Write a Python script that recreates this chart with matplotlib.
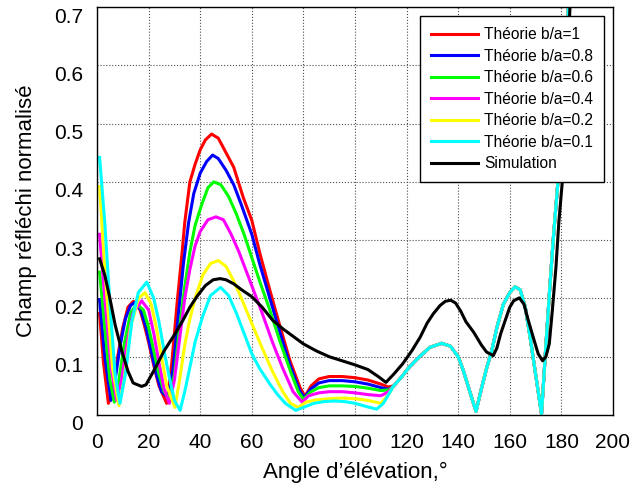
import numpy as np
import matplotlib
matplotlib.use("Agg")
import matplotlib.pyplot as plt
from matplotlib.transforms import ScaledTranslation

plt.rcParams['font.family'] = ['Liberation Sans', 'DejaVu Sans']

# values
# shared tail of all theory curves (they coincide after ~115 deg)
tail_x = [115, 118, 121, 125, 129, 133.6, 137, 140, 142, 144.5, 146.9, 149, 151, 153, 155,
          157.5, 160, 162, 164, 166, 168, 170, 172.3, 174, 175.6, 177, 178.8, 181, 183]
tail_y = [0.05, 0.065, 0.082, 0.1, 0.116, 0.123, 0.118, 0.1, 0.076, 0.04, 0.006, 0.045, 0.08, 0.11, 0.15,
          0.19, 0.21, 0.22, 0.215, 0.185, 0.13, 0.07, 0.002, 0.12, 0.225, 0.31, 0.408, 0.55, 0.72]

ang_ba1 = [1, 2.5, 4.4, 6, 8, 10, 12, 14.1, 16, 18, 20, 22, 24, 27, 29, 31, 33, 34, 36, 38, 40, 42, 44.4,
           47, 50, 53, 56.7, 60, 63.2, 67, 71, 74.8, 78.7, 80.6, 83, 86, 90, 95, 100, 105, 110, 113]
val_ba1 = [0.174, 0.09, 0.02, 0.04, 0.1, 0.15, 0.185, 0.195, 0.19, 0.16, 0.125, 0.085, 0.05, 0.02, 0.09, 0.19,
           0.28, 0.33, 0.40, 0.43, 0.455, 0.472, 0.482, 0.475, 0.45, 0.425, 0.373, 0.334, 0.276, 0.214, 0.151,
           0.093, 0.047, 0.032, 0.05, 0.062, 0.066, 0.066, 0.064, 0.06, 0.053, 0.048]

ang_ba08 = [1, 3, 5.4, 7, 9, 11, 13, 14.7, 17, 19, 21, 23, 25, 27.5, 29.5, 31.5, 33.5, 35.5, 37.5, 40, 42.5,
            44.8, 47, 50, 53, 56, 60, 63, 67, 71, 75, 78.5, 80.3, 83, 86, 90, 95, 100, 105, 110, 113]
val_ba08 = [0.198, 0.1, 0.025, 0.06, 0.12, 0.165, 0.188, 0.193, 0.18, 0.15, 0.11, 0.07, 0.04, 0.03, 0.08,
            0.17, 0.26, 0.33, 0.38, 0.415, 0.435, 0.446, 0.44, 0.42, 0.395, 0.36, 0.31, 0.26, 0.2, 0.14, 0.083,
            0.042, 0.03, 0.045, 0.055, 0.059, 0.059, 0.057, 0.053, 0.047, 0.044]

ang_ba06 = [1, 3, 5, 6.7, 8.5, 10.5, 13, 15.4, 18, 20, 22, 24, 26, 28, 30, 32, 34, 36, 38, 40.5, 43, 45.3,
            48, 51, 54, 57, 60, 63, 67, 71, 75, 78, 80, 83, 86, 90, 95, 100, 105, 110, 113]
val_ba06 = [0.245, 0.15, 0.06, 0.022, 0.06, 0.12, 0.175, 0.19, 0.18, 0.15, 0.11, 0.07, 0.04, 0.028, 0.07,
            0.15, 0.22, 0.28, 0.325, 0.36, 0.39, 0.40, 0.395, 0.375, 0.345, 0.31, 0.27, 0.23, 0.18, 0.125,
            0.075, 0.04, 0.027, 0.04, 0.047, 0.05, 0.05, 0.049, 0.046, 0.042, 0.043]

ang_ba04 = [1, 3, 5.5, 7.6, 9.5, 11.5, 14, 17.3, 20, 22, 24, 26, 28, 30, 32, 34, 36, 38, 40, 43, 46.1, 49,
            52, 55, 58, 61, 64, 68, 72, 76, 79.5, 82, 86, 90, 95, 100, 105, 110, 113]
val_ba04 = [0.31, 0.2, 0.08, 0.025, 0.06, 0.12, 0.175, 0.196, 0.18, 0.14, 0.09, 0.045, 0.02, 0.06, 0.13,
            0.2, 0.25, 0.29, 0.315, 0.335, 0.34, 0.335, 0.31, 0.28, 0.245, 0.21, 0.175, 0.125, 0.08, 0.04,
            0.022, 0.033, 0.038, 0.04, 0.04, 0.038, 0.035, 0.033, 0.04]

ang_ba02 = [1, 3, 6, 8.5, 10.5, 13, 16, 18.6, 21, 23, 25, 27, 30.2, 32, 34, 36, 38, 41, 44, 47, 50, 53, 56,
            60, 64, 68, 72, 75, 78, 81, 85, 90, 95, 100, 105, 110, 113]
val_ba02 = [0.392, 0.25, 0.08, 0.016, 0.06, 0.15, 0.2, 0.21, 0.19, 0.15, 0.1, 0.05, 0.013, 0.06, 0.12,
            0.165, 0.2, 0.24, 0.26, 0.265, 0.255, 0.23, 0.2, 0.157, 0.115, 0.075, 0.04, 0.02, 0.013, 0.022,
            0.026, 0.028, 0.029, 0.028, 0.025, 0.02, 0.035]

ang_ba01 = [1, 3, 5, 7, 8.9, 11, 13.5, 16, 19.3, 22, 24, 26, 28, 30, 32.2, 34, 36, 38, 41, 44, 47.9, 51,
            54, 57, 60, 63, 67, 70, 73, 77, 80, 84, 88, 92, 96, 100, 104, 108.4, 111, 113]
val_ba01 = [0.442, 0.33, 0.19, 0.07, 0.02, 0.07, 0.16, 0.21, 0.228, 0.2, 0.16, 0.11, 0.065, 0.025, 0.008,
            0.04, 0.082, 0.125, 0.17, 0.205, 0.219, 0.205, 0.175, 0.14, 0.105, 0.08, 0.053, 0.035, 0.02,
            0.008, 0.013, 0.02, 0.023, 0.024, 0.023, 0.02, 0.015, 0.01, 0.02, 0.035]

ang_sim = [1, 3, 5, 7, 9.6, 12, 14, 17.3, 19, 22.5, 26, 30.2, 33, 36, 39, 42, 45, 47.7, 50, 53, 56, 60, 64,
           68, 72, 76, 80, 85, 90, 95, 100, 105, 109, 112, 115, 118.5, 122, 125.2, 128, 130.4, 133, 135,
           137.1, 139, 141, 143, 146, 149, 151, 153.6, 155, 156.5, 158.2, 160, 161.5, 163.7, 165.5, 167,
           169.1, 171, 172.7, 174, 175.3, 176.5, 177.9, 179, 180.5, 182, 183.5]
val_sim = [0.268, 0.24, 0.2, 0.155, 0.11, 0.075, 0.055, 0.049, 0.052, 0.08, 0.11, 0.139, 0.16, 0.185, 0.205,
           0.222, 0.232, 0.234, 0.232, 0.225, 0.215, 0.203, 0.185, 0.163, 0.148, 0.135, 0.122, 0.11, 0.1,
           0.093, 0.086, 0.078, 0.066, 0.056, 0.07, 0.088, 0.11, 0.133, 0.158, 0.174, 0.188, 0.195, 0.197,
           0.192, 0.178, 0.16, 0.142, 0.12, 0.108, 0.102, 0.115, 0.14, 0.162, 0.185, 0.196, 0.201, 0.19,
           0.165, 0.133, 0.105, 0.093, 0.1, 0.122, 0.18, 0.254, 0.33, 0.408, 0.55, 0.72]

theory = [
    (ang_ba1, val_ba1, "Théorie b/a=1", "#ff0000"),
    (ang_ba08, val_ba08, "Théorie b/a=0.8", "#0000ff"),
    (ang_ba06, val_ba06, "Théorie b/a=0.6", "#00ff00"),
    (ang_ba04, val_ba04, "Théorie b/a=0.4", "#ff00ff"),
    (ang_ba02, val_ba02, "Théorie b/a=0.2", "#ffff00"),
    (ang_ba01, val_ba01, "Théorie b/a=0.1", "#00ffff"),
]

fig = plt.figure(figsize=(6.3, 4.88), dpi=100)
ax = fig.add_axes([0.154, 0.1496, 0.819, 0.836])

for xs, ys, lab, col in theory:
    ax.plot(xs + tail_x, ys + tail_y, color=col, lw=2.2, label=lab)
ax.plot(ang_sim, val_sim, color="black", lw=2.2, label="Simulation")

ax.set_xlim(0, 200)
ax.set_ylim(0, 0.7)
ax.set_xticks(np.arange(0, 201, 20))
ax.set_yticks([0, 0.1, 0.2, 0.3, 0.4, 0.5, 0.6, 0.7])
ax.set_yticklabels(["0", "0.1", "0.2", "0.3", "0.4", "0.5", "0.6", "0.7"])
ax.grid(True, linestyle=":", color="0.3", lw=0.8)
ax.tick_params(direction="in", length=0, labelsize=15)
ax.tick_params(axis="x", pad=13)
ax.tick_params(axis="y", pad=10)
for sp in ax.spines.values():
    sp.set_linewidth(1.0)
    sp.set_color("black")

# MATLAB puts y labels slightly below the grid lines
for lbl in ax.get_yticklabels():
    lbl.set_transform(lbl.get_transform() + ScaledTranslation(0, -8 / 100, fig.dpi_scale_trans))

ax.set_xlabel("Angle d\u2019élévation,°", fontsize=16, labelpad=7)
ax.set_ylabel("Champ réfléchi normalisé", fontsize=16, labelpad=12)

leg = ax.legend(loc="upper right", fontsize=11.2, fancybox=False, framealpha=1,
                edgecolor="black", handlelength=3.0, borderaxespad=0.6, labelspacing=0.42,
                handletextpad=0.4, borderpad=0.7)
leg.get_frame().set_linewidth(1.0)

fig.savefig("out.png", dpi=100)
